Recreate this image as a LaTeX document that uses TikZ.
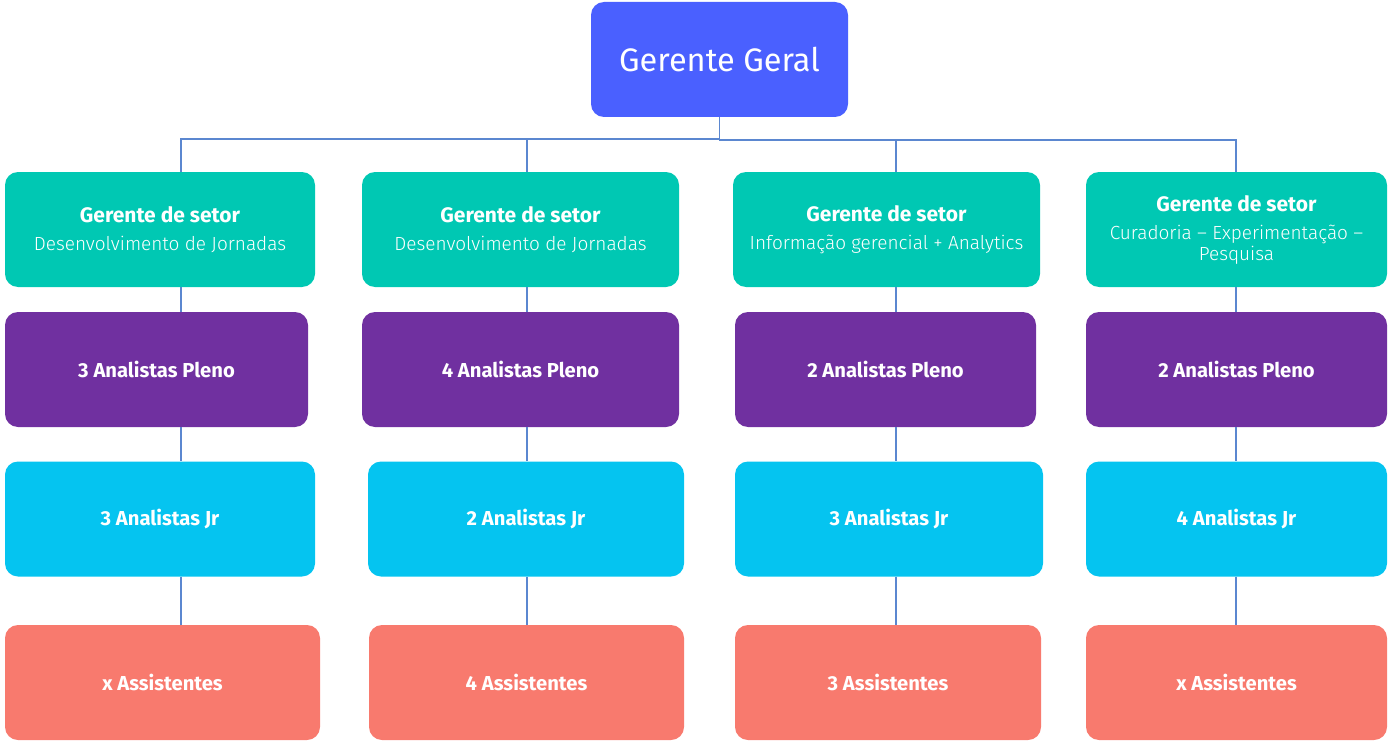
\documentclass[tikz,border=0pt]{standalone}
\usepackage{fontspec}
\setmainfont{Fira Sans}
\newfontfamily\lightfont{Fira Sans Light}
\definecolor{ggblue}{HTML}{4A60FF}
\definecolor{tealbox}{HTML}{00C8B3}
\definecolor{purplebox}{HTML}{7030A0}
\definecolor{cyanbox}{HTML}{05C4F0}
\definecolor{salmonbox}{HTML}{F87A6E}
\definecolor{linecol}{HTML}{5B87D0}
\newcommand{\hdbold}{\normalfont\bfseries\fontsize{21}{21}\selectfont}
\newcommand{\hdlight}{\lightfont\fontsize{19}{21}\selectfont}
\begin{document}
\begin{tikzpicture}[x=1pt,y=-1pt,
  orgbox/.style={rounded corners=13pt, text=white, align=center, inner sep=0pt, minimum height=115},
  headbox/.style={orgbox, fill=tealbox, font=\hdlight},
  bold/.style={font=\fontsize{20.2}{22}\selectfont\bfseries},
  conn/.style={draw=linecol, line width=1.1pt}]
\useasboundingbox (0,0) rectangle (1392,741);
% top
\node[orgbox, fill=ggblue, minimum width=257, font=\fontsize{32.5}{36}\selectfont] (gg) at (719.5,59.5) {Gerente Geral};
% row 1: gerentes de setor
\node[headbox, minimum width=310] (g1) at (160,229.5) {\hdbold Gerente de setor\\[7pt]Desenvolvimento de Jornadas};
\node[headbox, minimum width=317] (g2) at (520.5,229.5) {\hdbold Gerente de setor\\[7pt]Desenvolvimento de Jornadas};
\node[headbox, minimum width=307] (g3) at (886.5,229.5) {\hdbold Gerente de setor\\[7pt]Informação gerencial + Analytics};
\node[headbox, minimum width=301] (g4) at (1236.5,229.5) {\hdbold Gerente de setor\\[7pt]Curadoria – Experimentação –\\Pesquisa};
% row 2: pleno
\node[orgbox, bold, fill=purplebox, minimum width=303] (p1) at (156.5,369.5) {3 Analistas Pleno};
\node[orgbox, bold, fill=purplebox, minimum width=317] (p2) at (520.5,369.5) {4 Analistas Pleno};
\node[orgbox, bold, fill=purplebox, minimum width=301] (p3) at (885.5,369.5) {2 Analistas Pleno};
\node[orgbox, bold, fill=purplebox, minimum width=301] (p4) at (1236.5,369.5) {2 Analistas Pleno};
% row 3: jr
\node[orgbox, bold, fill=cyanbox, minimum width=310] (j1) at (160,519) {3 Analistas Jr};
\node[orgbox, bold, fill=cyanbox, minimum width=316] (j2) at (526,519) {2 Analistas Jr};
\node[orgbox, bold, fill=cyanbox, minimum width=308] (j3) at (889,519) {3 Analistas Jr};
\node[orgbox, bold, fill=cyanbox, minimum width=301] (j4) at (1236.5,519) {4 Analistas Jr};
% row 4: assistentes
\node[orgbox, bold, fill=salmonbox, minimum width=315] (a1) at (162.5,682.5) {x Assistentes};
\node[orgbox, bold, fill=salmonbox, minimum width=315] (a2) at (526.5,682.5) {4 Assistentes};
\node[orgbox, bold, fill=salmonbox, minimum width=306] (a3) at (888,682.5) {3 Assistentes};
\node[orgbox, bold, fill=salmonbox, minimum width=301] (a4) at (1236.5,682.5) {x Assistentes};
% connector columns
\coordinate (v1) at (181,0);
\coordinate (v2) at (527,0);
\coordinate (v3) at (896,0);
\coordinate (v4) at (1236,0);
\coordinate (hl) at (0,139);
\coordinate (hr) at (0,140);
\draw[conn] (gg.south) -- (gg.south |- hl) -| (g1.north -| v1);
\draw[conn] (gg.south |- hl) -| (g2.north -| v2);
\draw[conn] (gg.south) -- (gg.south |- hr) -| (g4.north -| v4);
\draw[conn] (gg.south |- hr) -| (g3.north -| v3);
\foreach \c in {1,2,3,4}{
  \draw[conn] (g\c.south -| v\c) -- (p\c.north -| v\c);
  \draw[conn] (p\c.south -| v\c) -- (j\c.north -| v\c);
  \draw[conn] (j\c.south -| v\c) -- (a\c.north -| v\c);
}
\end{tikzpicture}
\end{document}
